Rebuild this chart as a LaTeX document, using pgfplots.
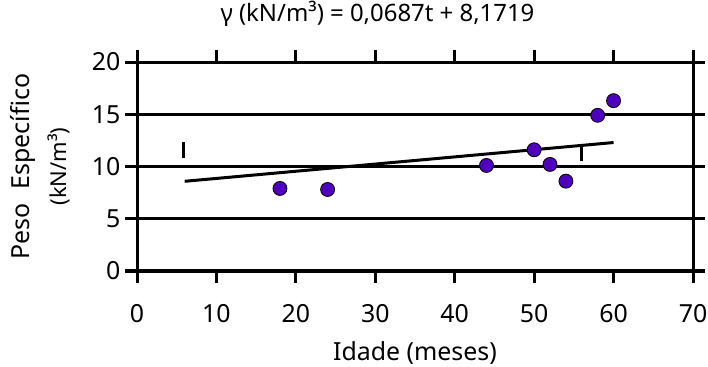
\documentclass[border=0pt]{standalone}
\usepackage{fontspec}
\setmainfont{Noto Sans}
\usepackage{pgfplots}
\pgfplotsset{compat=1.18}
\definecolor{ptfill}{RGB}{78,0,190}
\begin{document}
\begin{tikzpicture}
\begin{axis}[
  at={(137bp,96bp)}, anchor=south west,
  scale only axis, width=556bp, height=209bp,
  xmin=0, xmax=70, ymin=0, ymax=20,
  xtick={0,10,...,70}, ytick={0,5,...,20},
  tick align=outside,
  major tick length=12bp,
  tick style={line width=3bp, black},
  axis line style={line width=3bp},
  ymajorgrids, major grid style={line width=3bp, black},
  /pgf/number format/assume math mode=true,
  ticklabel style={font=\fontsize{25}{30}\selectfont},
  xticklabel style={yshift=-18bp},
  yticklabel style={xshift=-1bp},
  title={γ (kN/m³) = 0,0687t + 8,1719},
  title style={at={(axis description cs:0.4325,1.167)}, anchor=base, font=\fontsize{24}{29}\selectfont, inner sep=0pt},
  xlabel={Idade (meses)},
  xlabel style={at={(axis description cs:0.5,-0.426)}, anchor=base, font=\fontsize{25}{30}\selectfont, inner sep=0pt},
  ylabel={Peso\hspace{0.55em}Específico\\[7bp]{\fontsize{22}{26}\selectfont (kN/m³)}},
  ylabel style={at={(axis description cs:-0.1735,0.5)}, anchor=center, align=center, inner sep=0pt, font=\fontsize{25}{30}\selectfont},
  clip=false,
]
\addplot[line width=3bp, black] coordinates {(6,8.584) (60,12.294)};
\addplot[line width=3bp, black] coordinates {(5.8,10.8) (5.8,12.3)};
\addplot[line width=3bp, black] coordinates {(56,10.5) (56,12.0)};
\addplot[only marks, mark=*, mark size=7bp, mark options={fill=ptfill, draw=black, line width=0.8bp}]
  coordinates {(18,7.9) (24,7.8) (44,10.1) (50,11.6) (52,10.2) (54,8.6) (58,14.9) (60,16.3)};
\end{axis}
\pgfresetboundingbox
\path[use as bounding box] (0,0) rectangle (708bp,367bp);
\end{tikzpicture}
\end{document}
